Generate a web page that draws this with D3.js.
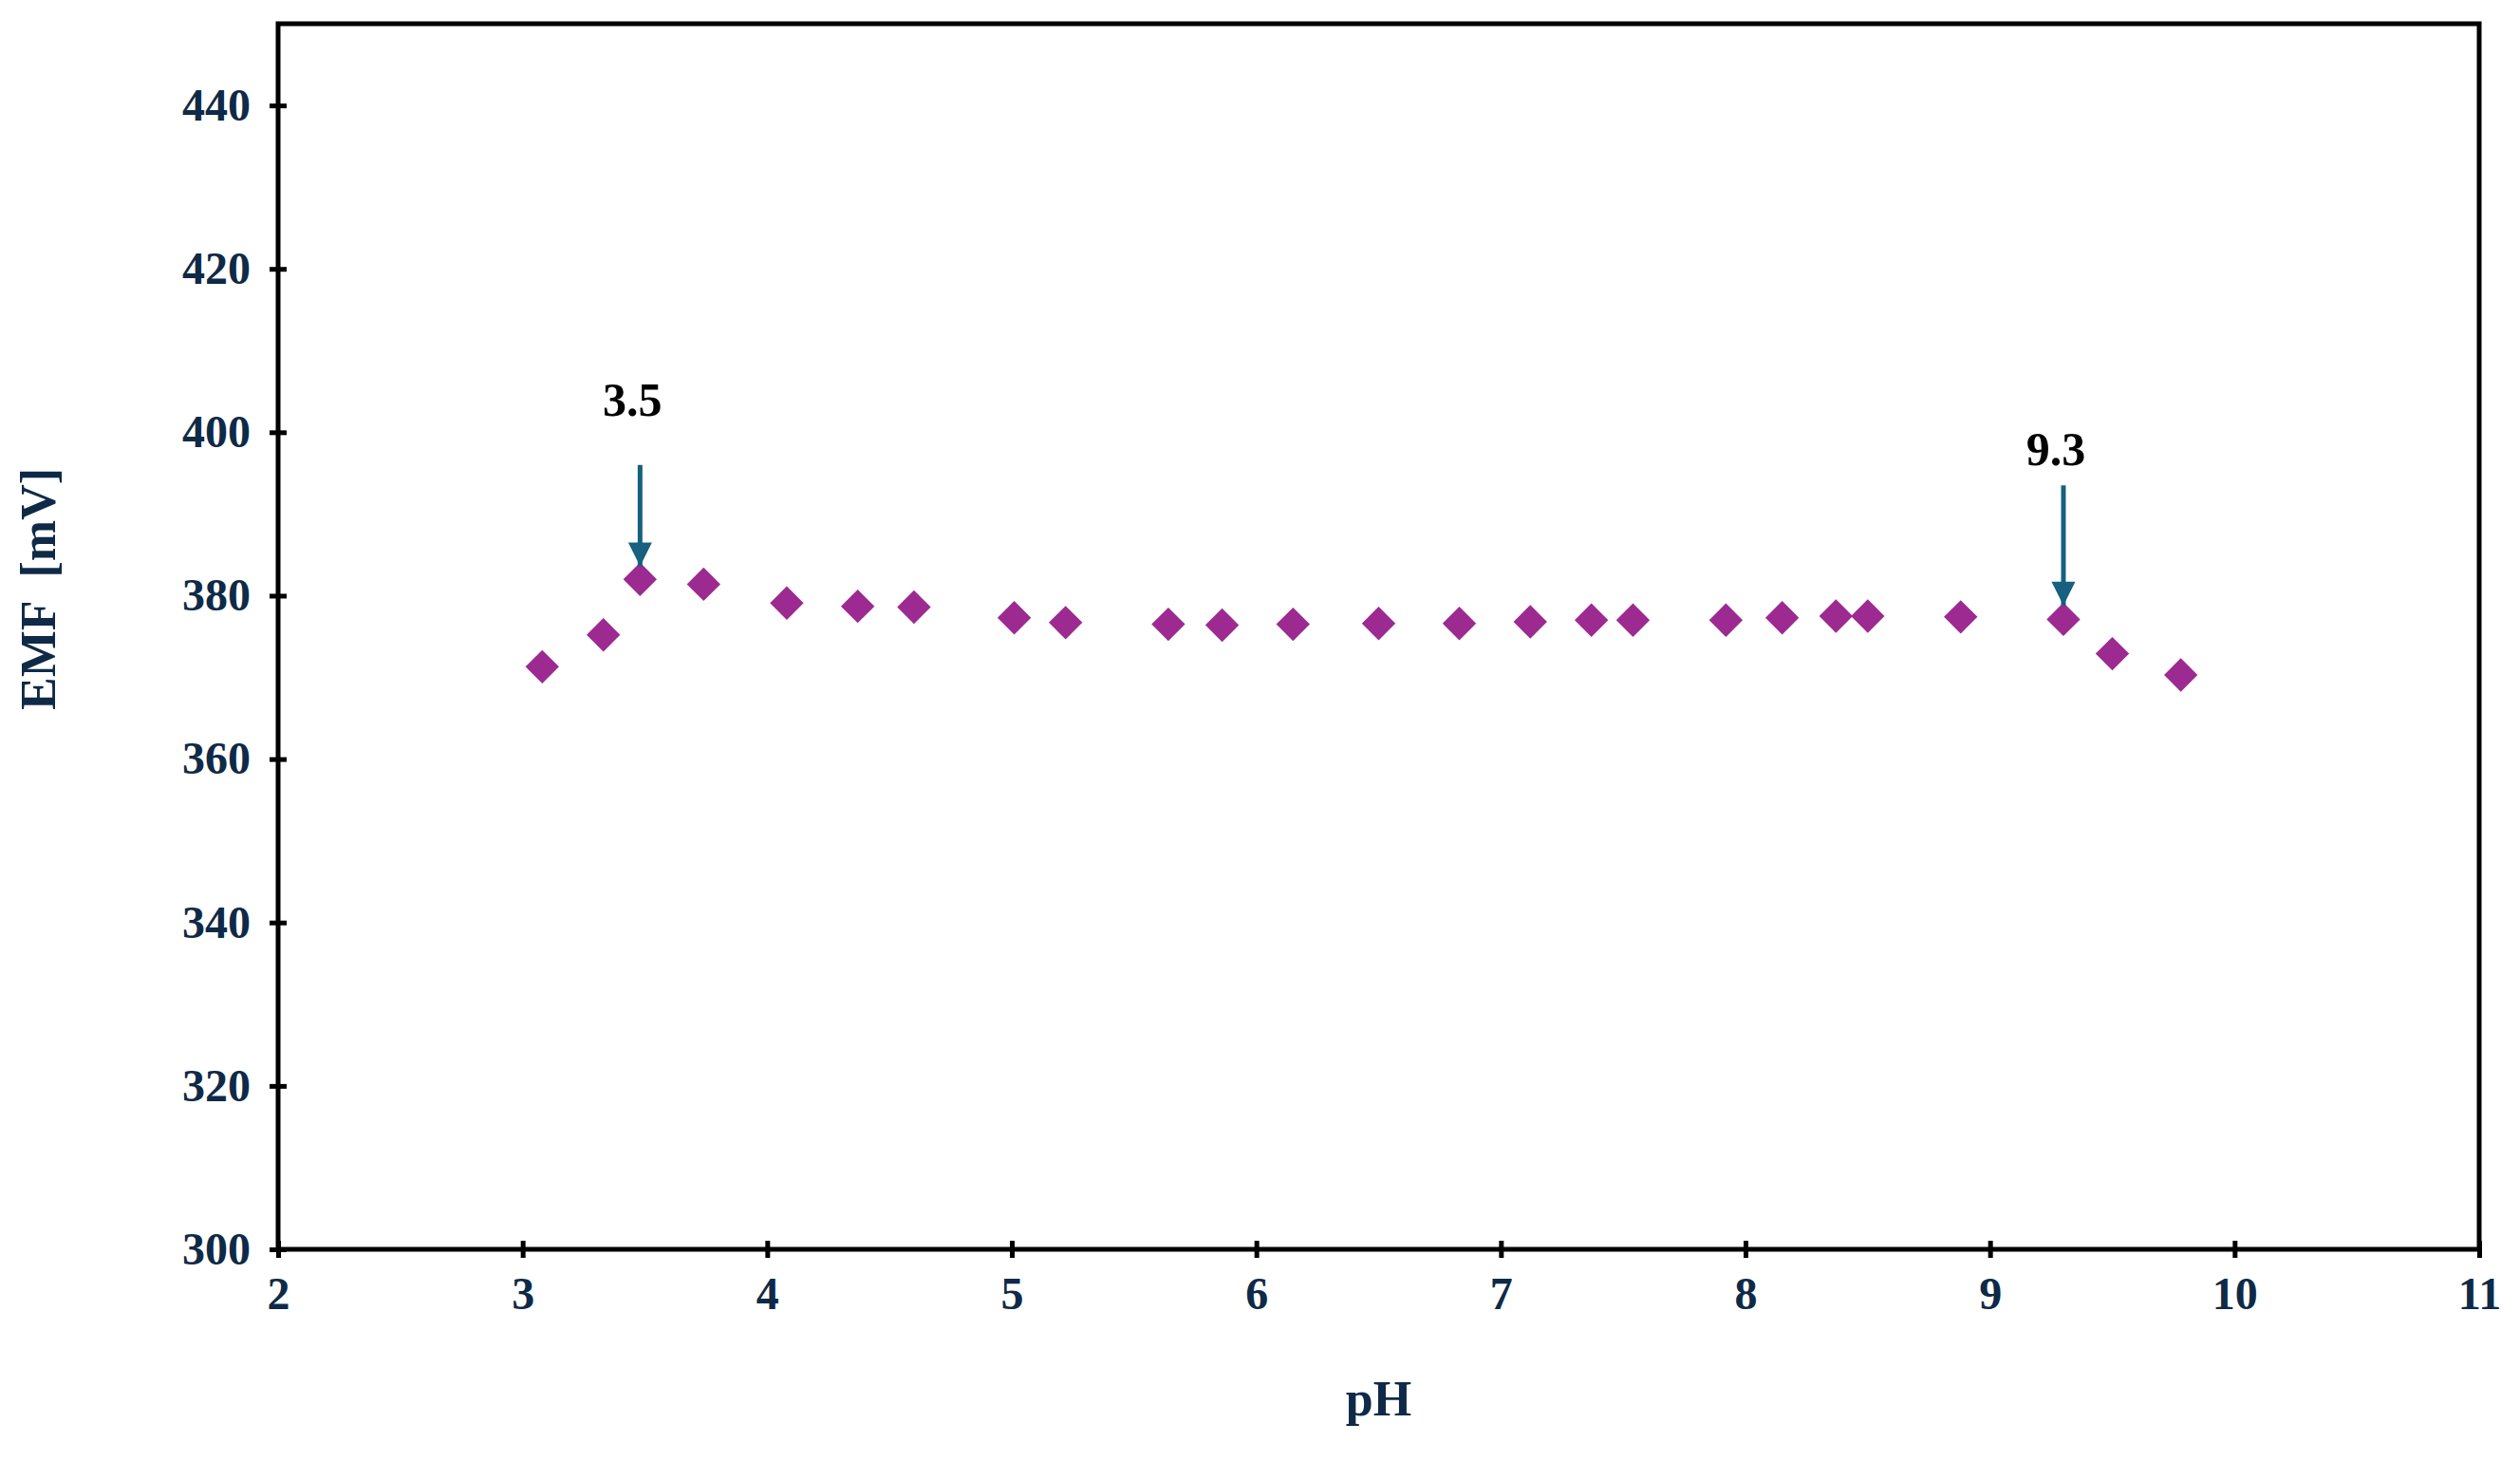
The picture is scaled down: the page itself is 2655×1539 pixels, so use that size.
<!DOCTYPE html>
<html>
<head>
<meta charset="utf-8">
<script src="https://cdn.jsdelivr.net/npm/d3@7"></script>
<style>
  body { margin: 0; background: #fff; }
  text { font-family: "Liberation Serif", "Times New Roman", serif; font-weight: bold; }
</style>
</head>
<body>
<div id="chart"></div>
<script>
const phValues = [3.08, 3.33, 3.48, 3.74, 4.08, 4.37, 4.60, 5.01, 5.22, 5.64, 5.86, 6.15, 6.50, 6.83, 7.12, 7.37, 7.54, 7.92, 8.15, 8.37, 8.50, 8.88, 9.30, 9.50, 9.78];
const emfValues = [371.3, 375.2, 382.0, 381.4, 379.1, 378.7, 378.6, 377.3, 376.7, 376.5, 376.4, 376.5, 376.6, 376.6, 376.8, 377.0, 377.0, 377.0, 377.3, 377.5, 377.5, 377.4, 377.1, 372.9, 370.3];
const xTicks = [2, 3, 4, 5, 6, 7, 8, 9, 10, 11];
const yTicks = [300, 320, 340, 360, 380, 400, 420, 440];
const notes = [
  { label: '3.5', x: 3.48, from: 396, to: 383.6, labelY: 402 },
  { label: '9.3', x: 9.30, from: 393.5, to: 378.8, labelY: 396 }
];

const W = 2655, H = 1539;
const margin = { top: 25, right: 43, bottom: 223, left: 293 };
const width = W - margin.left - margin.right;
const height = H - margin.top - margin.bottom;
const navy = '#0e2a47';

const svg = d3.select('#chart').append('svg')
  .attr('width', W).attr('height', H);

svg.append('defs').append('marker')
  .attr('id', 'arr').attr('viewBox', '0 0 10 10')
  .attr('refX', 10).attr('refY', 5)
  .attr('markerWidth', 6).attr('markerHeight', 5).attr('markerUnits', 'strokeWidth')
  .attr('orient', 'auto')
  .append('path').attr('d', 'M0,0L10,5L0,10Z').attr('fill', '#17607f');

const g = svg.append('g').attr('transform', `translate(${margin.left},${margin.top})`);

const x = d3.scaleLinear().domain([2, 11]).range([0, width]);
const y = d3.scaleLinear().domain([300, 450]).range([height, 0]);

// frame
g.append('rect').attr('width', width).attr('height', height)
  .attr('fill', 'none').attr('stroke', '#000').attr('stroke-width', 5);

const xAxis = g.append('g').attr('transform', `translate(0,${height})`)
  .call(d3.axisBottom(x).tickValues(xTicks).tickSize(9).tickPadding(20));
const yAxis = g.append('g')
  .call(d3.axisLeft(y).tickValues(yTicks).tickSize(9).tickPadding(20));

[xAxis, yAxis].forEach(a => {
  a.select('.domain').remove();
  a.selectAll('line').attr('stroke', '#000').attr('stroke-width', 5);
  a.selectAll('text').attr('fill', navy).style('font-size', '48px');
});
// ticks cross the axis
xAxis.selectAll('line').attr('y1', -9);
yAxis.selectAll('line').attr('x1', 9);

g.append('text').attr('x', width / 2).attr('y', height + 175)
  .attr('text-anchor', 'middle').attr('fill', navy).style('font-size', '52px').text('pH');
g.append('text')
  .attr('transform', `translate(${-235},${height / 2 - 50}) rotate(-90)`)
  .attr('text-anchor', 'middle').attr('fill', navy).style('font-size', '52px')
  .style('white-space', 'pre').text('EMF  [mV]');

// points
g.selectAll('.pt').data(phValues).enter().append('rect')
  .attr('class', 'pt')
  .attr('width', 25).attr('height', 25).attr('x', -12.5).attr('y', -12.5)
  .attr('transform', (d, i) => `translate(${x(d)},${y(emfValues[i])}) rotate(45)`)
  .attr('fill', '#9c2a91');

// annotations
notes.forEach(n => {
  g.append('line')
    .attr('x1', x(n.x)).attr('x2', x(n.x))
    .attr('y1', y(n.from)).attr('y2', y(n.to))
    .attr('stroke', '#17607f').attr('stroke-width', 5)
    .attr('marker-end', 'url(#arr)');
  g.append('text').attr('x', x(n.x) - 8).attr('y', y(n.labelY))
    .attr('text-anchor', 'middle').attr('fill', '#000').style('font-size', '50px')
    .text(n.label);
});
</script>
</body>
</html>
